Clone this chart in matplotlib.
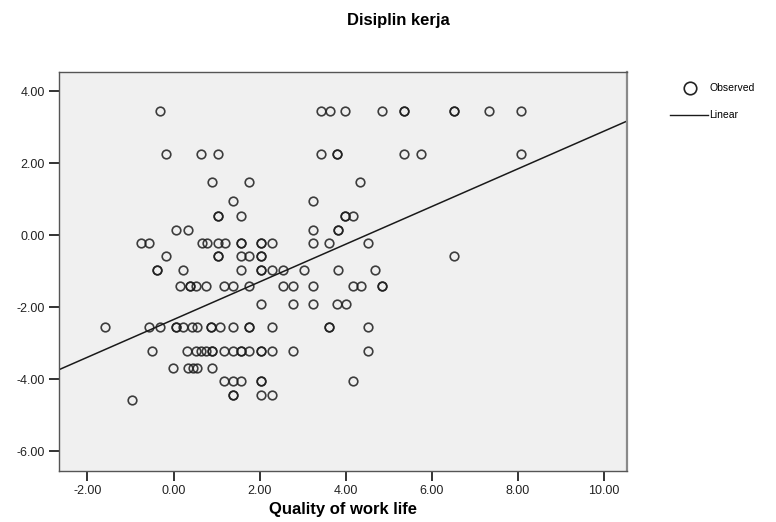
import numpy as np
from matplotlib import pyplot as plt
from matplotlib.lines import Line2D


# Setting
plt.rcParams['font.family'] = ['Liberation Sans', 'DejaVu Sans']


# Variable
# residual levels of "Disiplin kerja" and the "Quality of work life" scores on each level
y_levels = [3.45, 2.26, 1.47, 0.94, 0.52, 0.13, -0.23, -0.59, -0.98,
            -1.41, -1.92, -2.55, -3.21, -3.70, -4.04, -4.43, -4.58]
x_by_level = [
    [-0.31, 3.43, 3.63, 3.99, 4.84, 5.35, 5.35, 6.51, 6.51, 7.33, 8.08],
    [-0.17, 0.64, 1.04, 3.43, 3.80, 3.80, 5.36, 5.76, 8.08],
    [0.89, 1.76, 4.34],
    [1.37, 3.24],
    [1.04, 1.04, 1.57, 3.99, 3.99, 4.18],
    [0.06, 0.33, 3.24, 3.81, 3.81],
    [-0.76, -0.57, 0.66, 0.77, 1.03, 1.20, 1.57, 1.57, 2.03, 2.03, 2.28, 3.24, 3.62, 4.52],
    [-0.17, 1.03, 1.03, 1.57, 1.76, 2.03, 2.03, 6.51],
    [-0.38, -0.38, 0.23, 1.57, 2.03, 2.03, 2.28, 2.54, 3.02, 3.81, 4.67],
    [0.15, 0.38, 0.38, 0.52, 0.76, 1.17, 1.37, 1.76, 2.54, 2.77, 3.24, 4.16, 4.35, 4.84, 4.84],
    [2.03, 2.77, 3.24, 3.80, 4.01],
    [-1.59, -0.57, -0.31, 0.05, 0.05, 0.23, 0.42, 0.54, 0.87, 0.87, 1.07, 1.37, 1.76, 1.76,
     2.28, 3.62, 3.62, 4.52],
    [-0.49, 0.32, 0.52, 0.63, 0.75, 0.89, 0.89, 1.17, 1.37, 1.57, 1.57, 1.76, 2.03, 2.03,
     2.28, 2.77, 4.52],
    [-0.01, 0.34, 0.45, 0.54, 0.89],
    [1.17, 1.37, 1.57, 2.03, 2.03, 4.18],
    [1.37, 1.37, 2.03, 2.28],
    [-0.97],
]

# linear fit
intercept = -2.343
slope = 0.523

x_ticks = [-2, 0, 2, 4, 6, 8, 10]
y_ticks = [-6, -4, -2, 0, 2, 4]


# Plot
x_obs = np.concatenate([np.array(xs) for xs in x_by_level])
y_obs = np.concatenate([np.full(len(xs), lv) for xs, lv in zip(x_by_level, y_levels)])

fig = plt.figure(figsize=(7.76, 5.22), dpi=100)
ax = fig.add_axes([0.0756, 0.0983, 0.732, 0.7644])
ax.set_facecolor('#f0f0f0')

ax.plot(x_obs, y_obs, ls='none', marker='o', ms=6.2, mfc='none',
        mec='#1e1e1e', mew=1.2, alpha=0.85)

xlim = (-2.67, 10.53)
xs = np.array(xlim)
ax.plot(xs, intercept + slope * xs, color='#1a1a1a', lw=1.1)

ax.set_xlim(*xlim)
ax.set_ylim(-6.54, 4.54)
ax.set_xticks(x_ticks)
ax.set_yticks(y_ticks)
ax.set_xticklabels(['%.2f' % v for v in x_ticks])
ax.set_yticklabels(['%.2f' % v for v in y_ticks])
ax.tick_params(direction='out', length=7.5, width=1.4, color='#333333',
               labelsize=9, labelcolor='#222222', pad=2.5)

for side, sp in ax.spines.items():
    sp.set_color('#555555')
    sp.set_linewidth(1.0)
ax.spines['right'].set_color('#8a8a8a')
ax.spines['right'].set_linewidth(1.6)

ax.set_xlabel('Quality of work life', fontsize=12, fontweight='bold')
ax.xaxis.set_label_coords(0.5, -0.079)
fig.text(0.513, 1 - 21 / 522, 'Disiplin kerja', ha='center', va='center',
         fontsize=12, fontweight='bold')

# Legend
fig.add_artist(Line2D([690 / 776], [1 - 88 / 522], marker='o', ms=9, mfc='none',
                      mec='#222222', mew=1.2, ls='none'))
fig.text(710 / 776, 1 - 88 / 522, 'Observed', fontsize=7.5, va='center', ha='left')
fig.add_artist(Line2D([670 / 776, 708 / 776], [1 - 115 / 522, 1 - 115 / 522],
                      color='#1a1a1a', lw=1.0))
fig.text(709 / 776, 1 - 115 / 522, 'Linear', fontsize=7.5, va='center', ha='left')

plt.savefig('out.png', dpi=100)
plt.close()
